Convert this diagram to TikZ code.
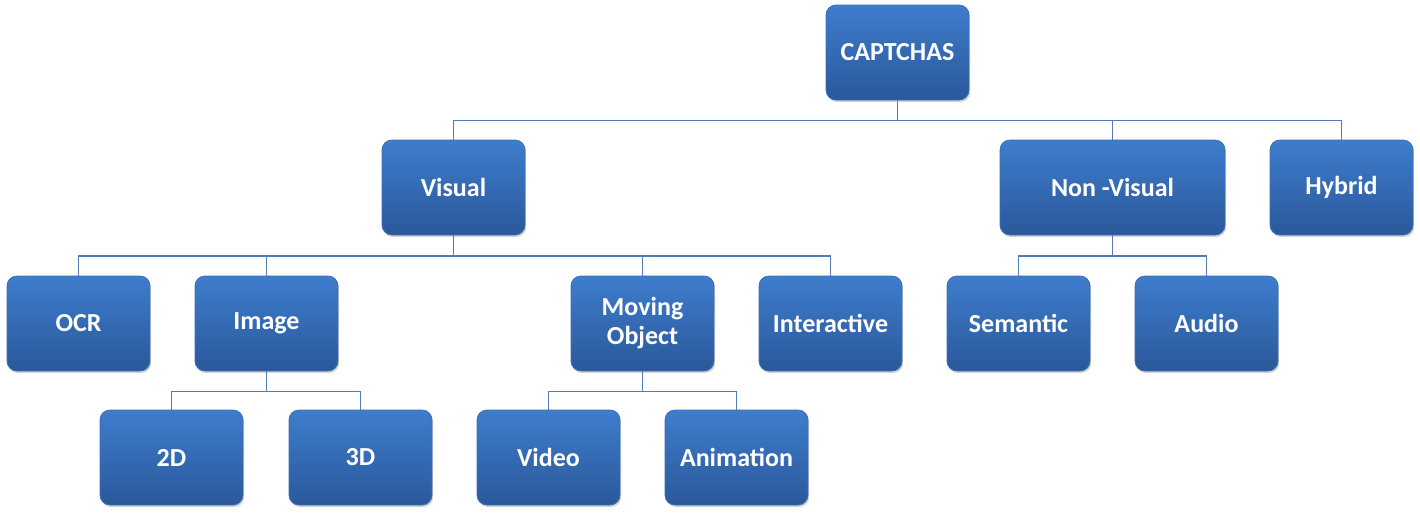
\documentclass[tikz,border=0pt]{standalone}
\usepackage{fontspec}
\setmainfont{Carlito}
\usetikzlibrary{shadows}

\definecolor{boxtop}{RGB}{62,125,205}
\definecolor{boxbot}{RGB}{42,88,154}
\definecolor{boxline}{RGB}{60,110,180}
\definecolor{linkblue}{RGB}{80,125,180}

\begin{document}
\begin{tikzpicture}[x=0.5pt,y=-0.5pt,
	box/.style={rectangle,rounded corners=5pt,draw=boxline,line width=0.4pt,
		top color=boxtop,bottom color=boxbot,text=white,
		minimum width=71.5pt,minimum height=47.5pt,align=center,
		font=\fontsize{13}{14.5}\selectfont\bfseries,
		drop shadow={shadow xshift=0.6pt,shadow yshift=-1pt,opacity=0.35}},
	link/.style={draw=linkblue,line width=0.9pt}]
	\useasboundingbox (0,0) rectangle (1420,516);

	\node[box] (cap) at (897.5,52.5) {CAPTCHAS};

	\node[box] (vis) at (453.5,187.5) {Visual};
	\node[box,minimum width=112.5pt] (nonvis) at (1112.5,187.5) {Non -Visual};
	\node[box] (hyb) at (1341.5,187.5) {Hybrid};

	\node[box] (ocr) at (78.5,323.5) {OCR};
	\node[box] (img) at (266.5,323.5) {Image};
	\node[box] (mov) at (642.5,323.5) {Moving\\Object};
	\node[box] (inter) at (830.5,323.5) {Interactive};
	\node[box] (sem) at (1018.5,323.5) {Semantic};
	\node[box] (aud) at (1206.5,323.5) {Audio};

	\node[box] (d2) at (171.5,457.5) {2D};
	\node[box] (d3) at (360.5,457.5) {3D};
	\node[box] (vid) at (548.5,457.5) {Video};
	\node[box] (ani) at (736.5,457.5) {Animation};

	% top level
	\foreach \kid in {vis,nonvis,hyb}
		\draw[link] (cap.south) -- ++(0,20) -| (\kid.north);

	% visual
	\foreach \kid in {ocr,img,mov,inter}
		\draw[link] (vis.south) -- ++(0,20.5) -| (\kid.north);

	% non-visual
	\foreach \kid in {sem,aud}
		\draw[link] (nonvis.south) -- ++(0,20.5) -| (\kid.north);

	% image and moving object
	\foreach \kid in {d2,d3}
		\draw[link] (img.south) -- ++(0,20) -| (\kid.north);
	\foreach \kid in {vid,ani}
		\draw[link] (mov.south) -- ++(0,20) -| (\kid.north);
\end{tikzpicture}
\end{document}
